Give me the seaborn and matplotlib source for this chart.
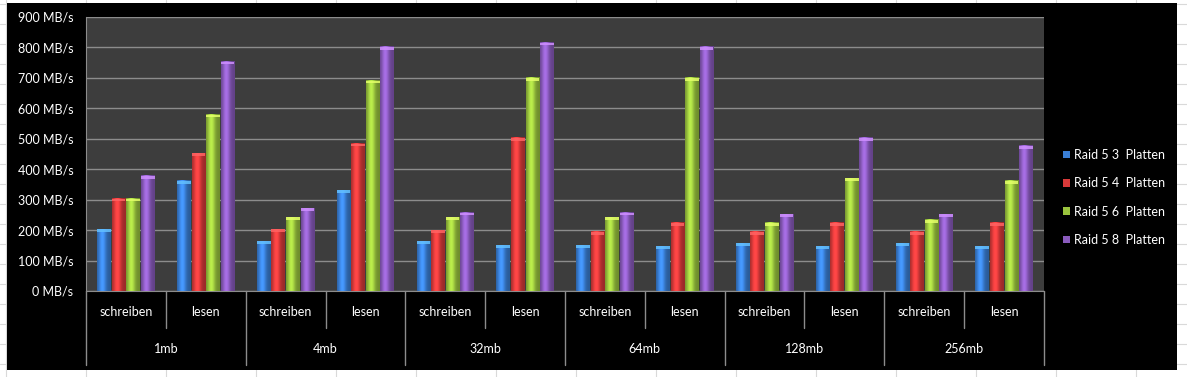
import numpy as np
import pandas as pd
import matplotlib
matplotlib.use("Agg")
import matplotlib.pyplot as plt
from matplotlib.lines import Line2D
from matplotlib.patches import Rectangle, Patch
import matplotlib.colors as mcolors
import matplotlib.transforms as mtransforms
import seaborn as sns

# ---- data ----
sizes = ["1mb", "4mb", "32mb", "64mb", "128mb", "256mb"]
ops = ["schreiben", "lesen"]
series_names = ["Raid 5 3  Platten", "Raid 5 4  Platten", "Raid 5 6  Platten", "Raid 5 8  Platten"]
raid5_3 = [203, 362, 164, 331, 164, 150, 150, 147, 157, 147, 157, 147]
raid5_4 = [303, 453, 203, 484, 200, 503, 194, 224, 194, 224, 194, 224]
raid5_6 = [303, 579, 242, 691, 242, 700, 242, 700, 224, 371, 234, 362]
raid5_8 = [378, 753, 272, 802, 257, 816, 257, 802, 252, 503, 252, 477]
colors = ["#3a7fd5", "#d83a3a", "#9ac43e", "#8a5bbd"]
y_ticks = [0, 100, 200, 300, 400, 500, 600, 700, 800, 900]

cats = [f"{s}|{o}" for s in sizes for o in ops]
rows = []
for name, vals in zip(series_names, [raid5_3, raid5_4, raid5_6, raid5_8]):
    for c, v in zip(cats, vals):
        rows.append({"cat": c, "value": v, "series": name})
df = pd.DataFrame(rows)

sns.set_style("dark")
plt.rcParams["font.family"] = ["Lato", "DejaVu Sans"]

W, H = 1187, 377
fig = plt.figure(figsize=(W / 100, H / 100), dpi=100)
fig.patch.set_facecolor("white")

# spreadsheet cell grid behind the chart
grid_c = "#d9d9d9"
for x in [6, 86, 166, 256, 336, 416, 496, 576, 656, 736, 816, 896, 976, 1056, 1136]:
    fig.add_artist(Line2D([x / W, x / W], [0, 1], color=grid_c, lw=0.8, zorder=0))
for y in range(4, H, 20):
    fig.add_artist(Line2D([0, 1], [1 - y / H, 1 - y / H], color=grid_c, lw=0.8, zorder=0))

# black chart area
fig.add_artist(Rectangle((7 / W, 1 - 370 / H), 1170 / W, 367 / H,
                         transform=fig.transFigure, facecolor="black",
                         edgecolor="none", zorder=1))

ax = fig.add_axes([86 / W, 1 - 291 / H, (1044 - 86) / W, (291 - 17) / H])
ax.set_zorder(2)
ax.set_facecolor("#3d3d3d")

sns.barplot(data=df, x="cat", y="value", hue="series", palette=colors,
            width=0.73, gap=0.06, saturation=1, ax=ax, legend=False,
            edgecolor="none", errorbar=None, zorder=3)

ax.set_ylim(0, 900)
ax.set_xlim(-0.5, len(cats) - 0.5)

# glossy cylinder-like shading on each bar (geometry taken from seaborn's patches)
prof = np.linspace(0, 1, 32)
shade = 0.72 + 0.5 * np.exp(-((prof - 0.38) / 0.28) ** 2)
for p in list(ax.patches):
    if p.get_height() <= 0:
        continue
    rgb = np.array(mcolors.to_rgb(p.get_facecolor()))
    img = np.clip(rgb[None, :] * shade[:, None], 0, 1)[None, :, :]
    x0, w, h = p.get_x(), p.get_width(), p.get_height()
    ax.imshow(img, extent=(x0, x0 + w, 0, h), aspect="auto", zorder=3.5,
              interpolation="bilinear")
    # lighter bevel cap at the top
    cap = np.clip(rgb * 1.35 + 0.08, 0, 1)
    ax.add_patch(Rectangle((x0, h - 9), w, 9, facecolor=cap, edgecolor="none",
                           zorder=3.6, alpha=0.85))

ax.set_ylim(0, 900)
ax.set_xlim(-0.5, len(cats) - 0.5)
ax.set_aspect("auto")
ax.set_yticks(y_ticks)
ax.set_yticklabels([f"{v} MB/s" for v in y_ticks], color="white", fontsize=9)
ax.yaxis.grid(True, color="#8c8c8c", lw=1.0)
ax.xaxis.grid(False)
ax.set_axisbelow(True)
ax.tick_params(axis="y", length=0, pad=9)
ax.tick_params(axis="x", length=0, labelbottom=False)
ax.set_xlabel("")
ax.set_ylabel("")
for s in ["top", "right"]:
    ax.spines[s].set_visible(False)
ax.spines["left"].set_color("#8c8c8c")
ax.spines["bottom"].set_color("#8c8c8c")

# two-level category axis
trans = mtransforms.blended_transform_factory(ax.transData, ax.transAxes)
ah = 291 - 17
y_sub = -(328 - 291) / ah
y_main = -(365 - 291) / ah
for k in range(len(cats) + 1):
    xb = k - 0.5
    y_end = y_main if k % 2 == 0 else y_sub
    ax.plot([xb, xb], [0, y_end], transform=trans, color="#8c8c8c", lw=1.0, clip_on=False)
for i, c in enumerate(cats):
    ax.text(i, -(312 - 291) / ah, c.split("|")[1], transform=trans, ha="center",
            va="center", color="white", fontsize=9)
for j, s in enumerate(sizes):
    ax.text(2 * j + 0.5, -(349 - 291) / ah, s, transform=trans, ha="center",
            va="center", color="white", fontsize=9)

handles = [Patch(facecolor=c, edgecolor="none") for c in colors]
leg = fig.legend(handles, series_names, loc="center left",
                 bbox_to_anchor=(1063 / W, 1 - 197.5 / H), frameon=False,
                 fontsize=9, labelcolor="white", handlelength=0.55,
                 handleheight=0.55, handletextpad=0.35, labelspacing=1.3,
                 borderpad=0, borderaxespad=0)
leg.set_zorder(5)

fig.savefig("out.png", dpi=100, facecolor=fig.get_facecolor())
